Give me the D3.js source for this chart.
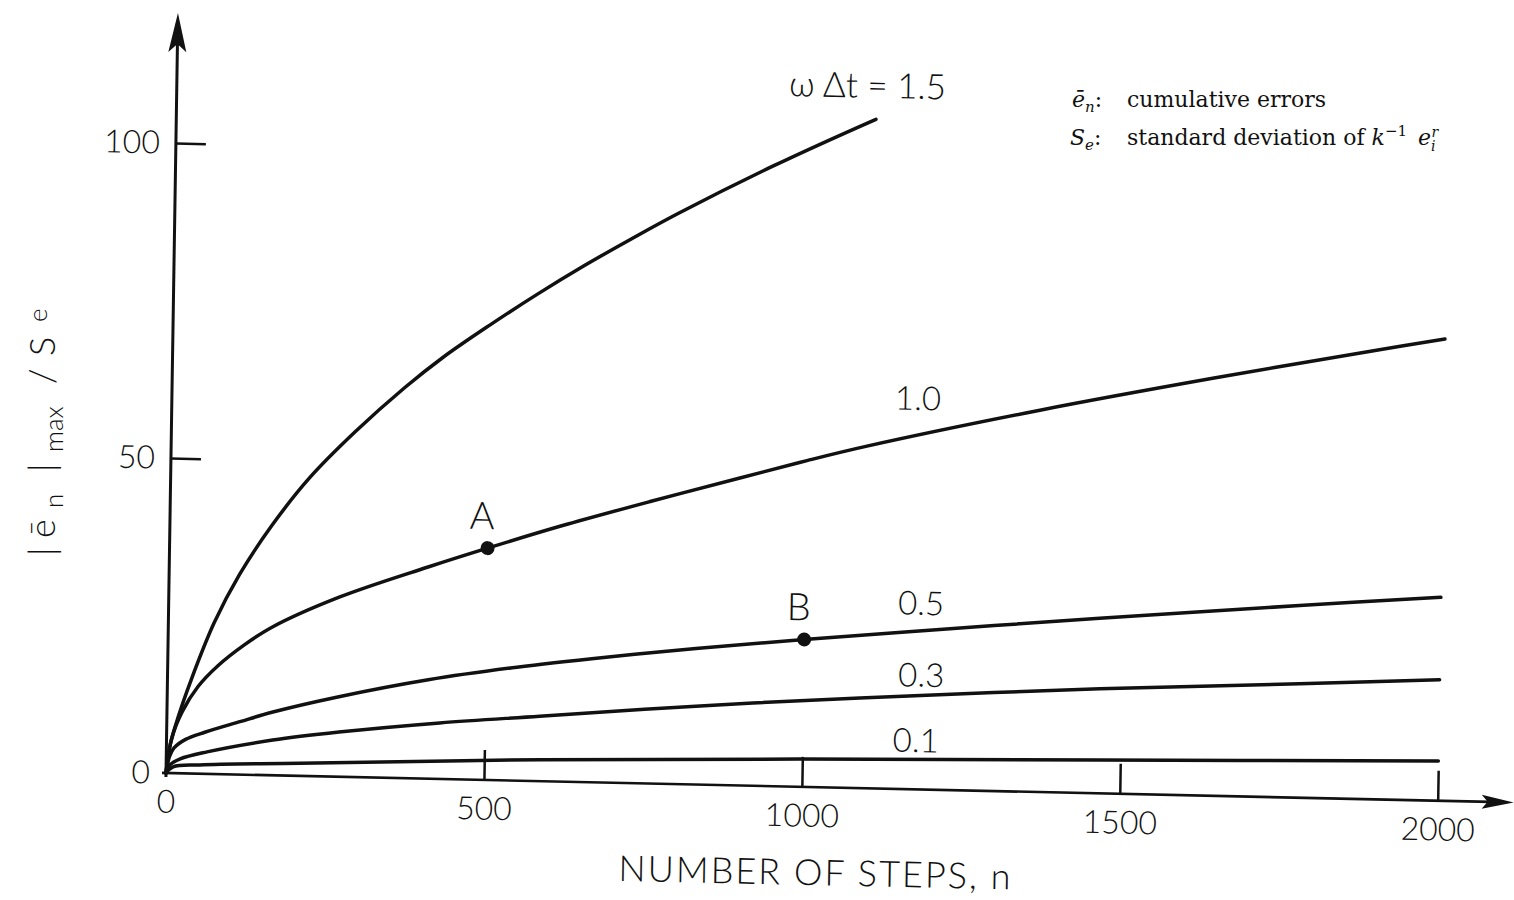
<!DOCTYPE html>
<html lang="en">
<head>
<meta charset="UTF-8">
<title>Cumulative error growth</title>
<script src="https://d3js.org/d3.v7.min.js"></script>
<style>
  body { margin: 0; background: #fff; }
  .letter { font-family: "Lato", "DejaVu Sans", sans-serif; font-weight: 300; fill: #111; }
  .note { font-family: "DejaVu Serif", serif; fill: #111; }
</style>
</head>
<body>
<svg width="1514" height="900"></svg>
<script>
    // values: number of steps n and |e_n|max / Se
    var seriesNames = ["1.5", "1.0", "0.5", "0.3", "0.1"];

    var stepsW15 = [0, 6, 18, 37, 72, 111, 160, 219, 289, 366, 425, 498, 571, 644, 719, 792, 939, 1100];
    var errorW15 = [0, 4.5, 9.0, 14.8, 24.0, 31.8, 39.6, 47.4, 54.8, 62.0, 66.9, 72.2, 77.2, 81.9, 86.4, 90.6, 98.4, 106.2];

    var stepsW10 = [0, 8, 24, 48, 79, 120, 163, 268, 407, 500, 616, 756, 895, 1000, 1094, 1365, 1638, 1909, 2000];
    var errorW10 = [0, 5.5, 9.8, 13.8, 17.2, 20.6, 23.5, 28.5, 33.6, 36.8, 40.6, 44.8, 48.8, 51.8, 54.3, 60.6, 66.3, 71.6, 73.3];

    var stepsW05 = [0, 5, 12, 30, 60, 115, 165, 270, 410, 549, 689, 830, 1000, 1229, 1464, 1778, 2000];
    var errorW05 = [0, 2.6, 4.0, 5.4, 6.6, 8.4, 10.0, 12.7, 15.7, 18.0, 19.9, 21.6, 23.4, 25.6, 27.8, 30.5, 32.3];

    var stepsW03 = [0, 6, 22, 64, 167, 271, 429, 586, 838, 1089, 1466, 1780, 2000];
    var errorW03 = [0, 1.3, 2.3, 3.5, 5.6, 7.1, 8.9, 10.3, 12.5, 14.3, 16.6, 18.1, 19.2];

    var stepsW01 = [0, 11, 53, 210, 588, 996, 1468, 2000];
    var errorW01 = [0, 1.0, 1.4, 2.0, 3.4, 4.4, 5.3, 6.3];

    // marked points A and B
    var markNames = ["A", "B"];
    var markSteps = [500, 1000];
    var markErrors = [36.8, 23.4];

    var xTicks = [0, 500, 1000, 1500, 2000];
    var yTicks = [0, 50, 100];

    var svg = d3.select("svg");
    svg.append("rect").attr("width", 1514).attr("height", 900).attr("fill", "#fff");

    var x = d3.scaleLinear().domain([0, 2000]).range([0, 1272]);
    var y = d3.scaleLinear().domain([0, 100]).range([0, -630]);

    // the scanned drawing sits slightly turned on the page
    var deg = Math.PI / 180;
    var tiltX = 1.25 * deg, tiltY = 0.9 * deg;
    var plot = svg.append("g")
        .attr("transform", "matrix(" + [Math.cos(tiltX), Math.sin(tiltX), -Math.sin(tiltY), Math.cos(tiltY), 166, 773].join(",") + ")");

    // axes
    var xAxis = d3.axisBottom(x).tickValues(xTicks).tickFormat(d3.format("d"))
        .tickSizeInner(-30).tickSizeOuter(0).tickPadding(17);
    var gx = plot.append("g").call(xAxis);
    gx.select(".domain").remove();
    gx.selectAll(".tick line").attr("stroke", "#111").attr("stroke-width", 2.5);
    gx.selectAll(".tick").filter(d => d === 0).select("line").remove();
    gx.selectAll(".tick text").attr("class", "letter").attr("font-size", 32);

    var yAxis = d3.axisLeft(y).tickValues(yTicks).tickFormat(d3.format("d"))
        .tickSizeInner(-30).tickSizeOuter(0).tickPadding(16);
    var gy = plot.append("g").call(yAxis);
    gy.select(".domain").remove();
    gy.selectAll(".tick line").attr("stroke", "#111").attr("stroke-width", 2.5);
    gy.selectAll(".tick").filter(d => d === 0).select("line").remove();
    gy.selectAll(".tick text").attr("class", "letter").attr("font-size", 32);

    plot.append("line").attr("x1", 0).attr("y1", 4).attr("x2", 0).attr("y2", -735)
        .attr("stroke", "#111").attr("stroke-width", 3);
    plot.append("path").attr("d", "M0,-760 L-9,-721 L0,-729 L9,-721 Z").attr("fill", "#111");

    plot.append("line").attr("x1", -4).attr("y1", 0).attr("x2", 1325).attr("y2", 0)
        .attr("stroke", "#111").attr("stroke-width", 2.6);
    plot.append("path").attr("d", "M1348,0 L1316,-7 L1322,0 L1316,7 Z").attr("fill", "#111");

    // curves
    var series = [
        d3.zip(stepsW15, errorW15),
        d3.zip(stepsW10, errorW10),
        d3.zip(stepsW05, errorW05),
        d3.zip(stepsW03, errorW03),
        d3.zip(stepsW01, errorW01)
    ];

    var line = d3.line()
        .x(d => x(d[0]))
        .y(d => y(d[1]))
        .curve(d3.curveCatmullRom.alpha(0.5));

    plot.selectAll(".curve")
        .data(series)
        .enter().append("path")
        .attr("class", "curve")
        .attr("d", line)
        .attr("fill", "none")
        .attr("stroke", "#111")
        .attr("stroke-width", 3.5)
        .attr("stroke-linecap", "round");

    // curve labels
    var labelAt = [[1086, 111.6], [1173, 62.1], [1183, 29.6], [1185, 18.2], [1178, 7.8]];
    plot.selectAll(".clabel")
        .data(seriesNames)
        .enter().append("text")
        .attr("class", "letter clabel")
        .attr("x", (d, i) => x(labelAt[i][0]))
        .attr("y", (d, i) => y(labelAt[i][1]))
        .attr("dy", "0.36em")
        .attr("text-anchor", "middle")
        .attr("font-size", (d, i) => i === 0 ? 35 : 33)
        .text((d, i) => i === 0 ? "\u03C9 \u0394t = " + d : d);

    // points A and B
    markNames.forEach(function(name, i) {
        plot.append("circle")
            .attr("cx", x(markSteps[i]))
            .attr("cy", y(markErrors[i]))
            .attr("r", 7)
            .attr("fill", "#111");
        plot.append("text")
            .attr("class", "letter")
            .attr("x", x(markSteps[i]) - 6)
            .attr("y", y(markErrors[i]) - 19)
            .attr("text-anchor", "middle")
            .attr("font-size", 38)
            .attr("font-weight", 400)
            .text(name);
    });

    // x title
    plot.append("text")
        .attr("class", "letter")
        .attr("x", 650).attr("y", 98)
        .attr("text-anchor", "middle")
        .attr("font-size", 36)
        .attr("textLength", 392)
        .attr("lengthAdjust", "spacing")
        .text("NUMBER OF STEPS, n");

    // y title, laid out along the rotated baseline
    var yt = svg.append("text")
        .attr("class", "letter")
        .attr("transform", "translate(55,562) rotate(-90)")
        .attr("font-size", 36);
    yt.append("tspan").attr("x", 6).text("|");
    yt.append("tspan").attr("x", 24).text("\u0113");
    yt.append("tspan").attr("x", 54).attr("dy", 8).attr("font-size", 26).text("n");
    yt.append("tspan").attr("x", 90).attr("dy", -8).text("|");
    yt.append("tspan").attr("x", 110).attr("dy", 8).attr("font-size", 26).text("max");
    yt.append("tspan").attr("x", 178).attr("dy", -8).text("/");
    yt.append("tspan").attr("x", 206).text("S");
    yt.append("tspan").attr("x", 240).attr("dy", -8).attr("font-size", 26).text("e");

    // notes
    var n1 = svg.append("text").attr("class", "note").attr("y", 107).attr("font-size", 22);
    n1.append("tspan").attr("x", 1072).attr("font-style", "italic").text("\u0113");
    n1.append("tspan").attr("dy", 5).attr("font-size", 15).attr("font-style", "italic").text("n");
    n1.append("tspan").attr("dy", -5).text(":");
    n1.append("tspan").attr("x", 1127).text("cumulative errors");

    var n2 = svg.append("text").attr("class", "note").attr("y", 145).attr("font-size", 22);
    n2.append("tspan").attr("x", 1070).attr("font-style", "italic").text("S");
    n2.append("tspan").attr("dy", 5).attr("font-size", 15).attr("font-style", "italic").text("e");
    n2.append("tspan").attr("dy", -5).text(":");
    n2.append("tspan").attr("x", 1127).text("standard deviation of ");
    n2.append("tspan").attr("font-style", "italic").text("k");
    n2.append("tspan").attr("dy", -9).attr("font-size", 15).text("\u22121");
    n2.append("tspan").attr("dy", 9).text(" ");
    n2.append("tspan").attr("dx", 4).attr("font-style", "italic").text("e");
    n2.append("tspan").attr("dy", 6).attr("font-size", 14).attr("font-style", "italic").text("i");
    n2.append("tspan").attr("dx", -4).attr("dy", -14).attr("font-size", 14).attr("font-style", "italic").text("r");
</script>
</body>
</html>
